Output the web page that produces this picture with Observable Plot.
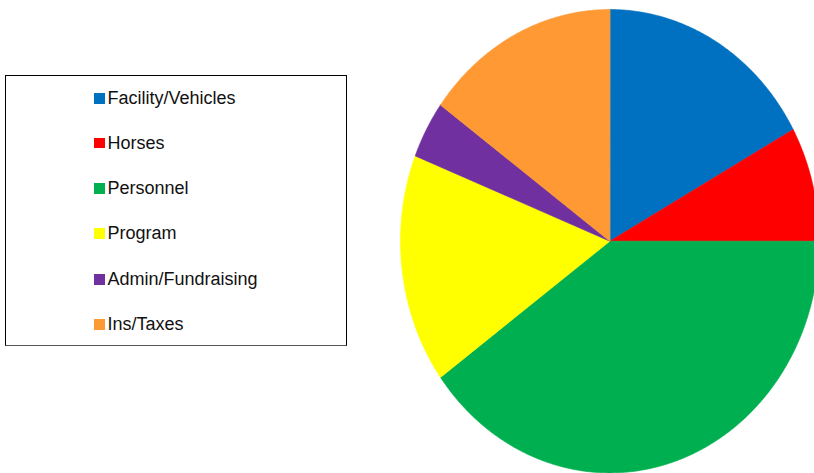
<!DOCTYPE html>
<html>
<head>
<meta charset="utf-8">
<script src="https://cdn.jsdelivr.net/npm/d3@7"></script>
<script src="https://cdn.jsdelivr.net/npm/@observablehq/plot@0.6"></script>
<style>
  html, body { margin: 0; padding: 0; background: #fff; }
  #wrap { position: relative; width: 814px; height: 473px; overflow: hidden; font-family: "Liberation Sans", Arial, sans-serif; }
  #chart { position: absolute; left: 0; top: 0; }
  #legend { position: absolute; left: 5px; top: 75px; width: 342px; height: 271px; border: 1px solid #000; border-bottom-color: #555; box-sizing: border-box; background: #fff; }
  .item { position: absolute; left: 88px; display: flex; align-items: center; font-size: 18px; color: #111; }
  .sw { width: 10.5px; height: 10.5px; margin-right: 3px; }
</style>
</head>
<body>
<div id="wrap">
  <div id="chart"></div>
  <div id="legend"></div>
</div>
<script>
const categories = ["Facility/Vehicles", "Horses", "Personnel", "Program", "Admin/Fundraising", "Ins/Taxes"];
const values = [17, 8, 40, 16, 4, 15];
const colors = ["#0070C0", "#FF0000", "#00B050", "#FFFF00", "#7030A0", "#FF9933"];

// pie layout (clockwise from 12 o'clock, data order)
const arcs = d3.pie().sort(null).value(d => d)(values);
const pts = [];
arcs.forEach((a, i) => {
  const cat = categories[i];
  pts.push({cat, u: 0, v: 0});
  const n = Math.max(2, Math.ceil((a.endAngle - a.startAngle) / (Math.PI / 360)));
  for (let k = 0; k <= n; k++) {
    const t = a.startAngle + (a.endAngle - a.startAngle) * k / n;
    pts.push({cat, u: Math.sin(t), v: Math.cos(t)});
  }
});

const chart = Plot.plot({
  width: 814,
  height: 473,
  margin: 0,
  x: {domain: [-1, 1], range: [400, 818.6], axis: null},
  y: {domain: [-1, 1], range: [472.4, 9], axis: null},
  color: {domain: categories, range: colors},
  marks: [
    Plot.line(pts, {x: "u", y: "v", z: "cat", fill: "cat", stroke: "cat", strokeWidth: 0.6, curve: "linear-closed"})
  ]
});
document.getElementById("chart").appendChild(chart);

const legend = document.getElementById("legend");
const rowTop = [22.7, 67, 112.3, 157.7, 203.3, 248.3];
categories.forEach((c, i) => {
  const it = document.createElement("div");
  it.className = "item";
  it.style.top = (rowTop[i] - 11) + "px";
  it.style.height = "22px";
  it.innerHTML = `<span class="sw" style="background:${colors[i]}"></span><span>${c}</span>`;
  legend.appendChild(it);
});
</script>
</body>
</html>
